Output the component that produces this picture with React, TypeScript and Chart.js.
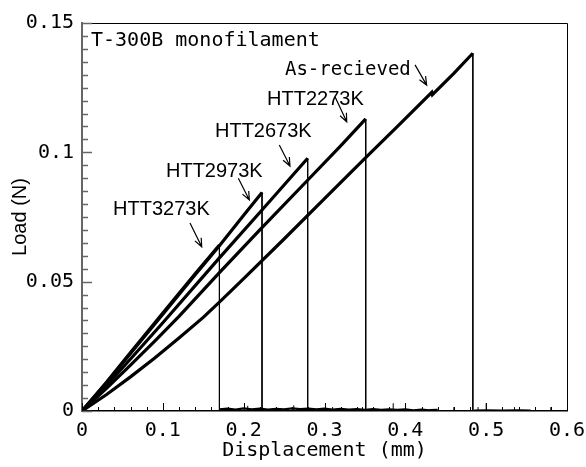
import React, { useEffect, useRef } from "react";
import { Chart, registerables } from "chart.js";

Chart.register(...registerables);

// ---- data (displacement mm, load N) ----
const asRecX = [0, 0.03, 0.06, 0.09, 0.12, 0.15, 0.17, 0.2, 0.25, 0.3, 0.35, 0.39, 0.4327, 0.4335, 0.46, 0.4835];
const asRecY = [0, 0.0063, 0.0132, 0.0205, 0.0282, 0.0362, 0.0421, 0.0512, 0.0665, 0.0821, 0.0977, 0.1099, 0.1232, 0.1223, 0.1305, 0.1383];

const h2273X = [0, 0.03, 0.06, 0.09, 0.12, 0.17, 0.22, 0.28, 0.32, 0.351];
const h2273Y = [0, 0.0087, 0.0177, 0.027, 0.0366, 0.0535, 0.07, 0.0895, 0.1025, 0.1129];

const h2673X = [0, 0.03, 0.06, 0.1, 0.17, 0.2227, 0.2792];
const h2673Y = [0, 0.0098, 0.0201, 0.0341, 0.0592, 0.0777, 0.0977];

const h2973X = [0, 0.03, 0.06, 0.1, 0.14, 0.17, 0.2, 0.2227];
const h2973Y = [0, 0.0108, 0.0222, 0.0374, 0.0527, 0.0639, 0.0757, 0.0845];

const h3273X = [0, 0.03, 0.06, 0.1, 0.14, 0.17];
const h3273Y = [0, 0.011, 0.0226, 0.0379, 0.0531, 0.0642];

// baseline noise after fracture
const noiseX = [0.17, 0.18, 0.19, 0.2, 0.21, 0.22, 0.23, 0.24, 0.25, 0.26, 0.27, 0.28, 0.29, 0.3, 0.31, 0.32, 0.33, 0.34, 0.35, 0.36, 0.37, 0.38, 0.39, 0.4, 0.41, 0.42, 0.43, 0.44];
const noiseY = [0.0006, 0.0009, 0.0005, 0.001, 0.0006, 0.0009, 0.0005, 0.0008, 0.0006, 0.001, 0.0007, 0.0009, 0.0006, 0.0009, 0.0005, 0.0008, 0.0005, 0.0007, 0.0004, 0.0007, 0.0004, 0.0006, 0.0004, 0.0006, 0.0003, 0.0005, 0.0003, 0.0004];
const spikeX = [0.205, 0.262, 0.31, 0.347, 0.385, 0.46, 0.49, 0.5, 0.535, 0.58];
const spikeY = [0.002, 0.0022, 0.0015, 0.0015, 0.003, 0.0015, 0.0015, 0.003, 0.0015, 0.0015];
const tailX = [0.485, 0.5, 0.52, 0.54, 0.555];
const tailY = [0.0003, 0.0004, 0.0003, 0.0004, 0.0003];

const xTicks = [0, 0.1, 0.2, 0.3, 0.4, 0.5, 0.6];
const xTickLabels = ["0", "0.1", "0.2", "0.3", "0.4", "0.5", "0.6"];
const yTicks = [0, 0.05, 0.1, 0.15];
const yTickLabels = ["0", "0.05", "0.1", "0.15"];

const seriesNames = ["As-recieved", "HTT2273K", "HTT2673K", "HTT2973K", "HTT3273K"];
const title = "T-300B monofilament";
const xTitle = "Displacement (mm)";
const yTitle = "Load (N)";

// annotation labels [x, y(baseline)] and arrows [x1,y1,x2,y2] in data units
const labelPos = [
  [0.2511, 0.1299],
  [0.2289, 0.1183],
  [0.1645, 0.1059],
  [0.1039, 0.0905],
  [0.0384, 0.0758],
];
const arrows = [
  [0.412, 0.1338, 0.4264, 0.126],
  [0.313, 0.1215, 0.3275, 0.1118],
  [0.2441, 0.1028, 0.2573, 0.0947],
  [0.1934, 0.09, 0.207, 0.0816],
  [0.1336, 0.0727, 0.1481, 0.0635],
];
const titlePos = [0.0111, 0.1411];

const zip = (xs: number[], ys: number[]) => xs.map((x, i) => ({ x, y: ys[i] }));
const drop = (xs: number[], ys: number[]) => {
  const n = xs.length - 1;
  return [{ x: xs[n], y: ys[n] }, { x: xs[n], y: 0 }];
};
const spikes = () => {
  const out: any[] = [];
  spikeX.forEach((x, i) => {
    out.push({ x, y: 0 }, { x, y: spikeY[i] }, { x, y: null });
  });
  return out;
};

const MONO = "'DejaVu Sans Mono', monospace";
const SANS = "'Liberation Sans', Arial, sans-serif";

const annotPlugin = {
  id: "annot",
  afterDraw(chart: any) {
    const { ctx, chartArea: a, scales } = chart;
    const xs = scales.x;
    const ys = scales.y;
    const px = (v: number) => xs.getPixelForValue(v);
    const py = (v: number) => ys.getPixelForValue(v);
    ctx.save();
    ctx.strokeStyle = "#000";
    ctx.lineWidth = 1;
    ctx.beginPath();
    ctx.moveTo(a.left, a.top + 0.5);
    ctx.lineTo(a.right + 0.5, a.top + 0.5);
    ctx.lineTo(a.right + 0.5, a.bottom);
    ctx.stroke();
    ctx.strokeStyle = "#666";
    ctx.lineWidth = 1.5;
    for (let i = 0; i <= 30; i++) {
      const v = i * 0.005;
      const y = Math.round(py(v)) + 0.5;
      const len = i % 10 === 0 ? 10 : 6;
      ctx.beginPath();
      ctx.moveTo(a.left, y);
      ctx.lineTo(a.left + len, y);
      ctx.stroke();
    }
    ctx.strokeStyle = "#000";
    ctx.lineWidth = 1;
    for (let i = 0; i <= 30; i++) {
      const v = i * 0.02;
      const x = Math.round(px(v)) + 0.5;
      const len = i % 5 === 0 ? 8 : 4;
      ctx.beginPath();
      ctx.moveTo(x, a.bottom);
      ctx.lineTo(x, a.bottom - len);
      ctx.stroke();
    }
    ctx.fillStyle = "#000";
    ctx.textBaseline = "alphabetic";
    ctx.textAlign = "left";
    ctx.font = `20px ${MONO}`;
    ctx.fillText(title, px(titlePos[0]), py(titlePos[1]));
    seriesNames.forEach((name, i) => {
      ctx.font = i === 0 ? `19px ${MONO}` : `20px ${SANS}`;
      ctx.fillText(name, px(labelPos[i][0]), py(labelPos[i][1]));
    });
    ctx.strokeStyle = "#000";
    ctx.lineWidth = 1.2;
    arrows.forEach(([x1, y1, x2, y2]) => {
      const X1 = px(x1), Y1 = py(y1), X2 = px(x2), Y2 = py(y2);
      const ang = Math.atan2(Y2 - Y1, X2 - X1);
      const hl = 9;
      ctx.beginPath();
      ctx.moveTo(X1, Y1);
      ctx.lineTo(X2, Y2);
      ctx.moveTo(X2 - hl * Math.cos(ang - 0.4), Y2 - hl * Math.sin(ang - 0.4));
      ctx.lineTo(X2, Y2);
      ctx.lineTo(X2 - hl * Math.cos(ang + 0.4), Y2 - hl * Math.sin(ang + 0.4));
      ctx.stroke();
    });
    ctx.restore();
  },
};

export default function App() {
  const ref = useRef<HTMLCanvasElement | null>(null);
  useEffect(() => {
    document.body.style.margin = "0";
    const curves = [
      zip(asRecX, asRecY),
      zip(h2273X, h2273Y),
      zip(h2673X, h2673Y),
      zip(h2973X, h2973Y),
      zip(h3273X, h3273Y),
    ];
    const drops = [
      drop(asRecX, asRecY),
      drop(h2273X, h2273Y),
      drop(h2673X, h2673Y),
      drop(h2973X, h2973Y),
      drop(h3273X, h3273Y),
    ];
    const base = { borderColor: "#000", pointRadius: 0, tension: 0, fill: false };
    const datasets: any[] = [
      ...curves.map((d, i) => ({ ...base, label: seriesNames[i], data: d, borderWidth: 3.2 })),
      ...drops.map((d, i) => ({ ...base, label: seriesNames[i] + " break", data: d, borderWidth: 1 })),
      { ...base, label: "noise", data: zip(noiseX, noiseY), borderWidth: 2.2 },
      { ...base, label: "tail", data: zip(tailX, tailY), borderWidth: 1.2 },
      { ...base, label: "spikes", data: spikes(), borderWidth: 1, spanGaps: false },
    ];
    const chart = new Chart(ref.current as HTMLCanvasElement, {
      type: "line",
      data: { datasets },
      plugins: [annotPlugin],
      options: {
        animation: false,
        responsive: false,
        layout: { padding: { top: 23, right: 19, left: 0, bottom: 0 } },
        plugins: { legend: { display: false }, tooltip: { enabled: false } },
        scales: {
          x: {
            type: "linear",
            min: 0,
            max: 0.6,
            afterBuildTicks: (s: any) => {
              s.ticks = xTicks.map((v) => ({ value: v }));
            },
            afterFit: (s: any) => {
              s.height = 56;
              s.paddingLeft = 0;
              s.paddingRight = 0;
            },
            grid: { display: false, drawTicks: false },
            border: { display: true, color: "#000", width: 1.5 },
            ticks: {
              autoSkip: false,
              maxRotation: 0,
              padding: 8,
              color: "#000",
              font: { family: MONO, size: 20 },
              callback: (v: any) => xTickLabels[xTicks.indexOf(Number(v))] ?? "",
            },
            title: {
              display: true,
              text: xTitle,
              color: "#000",
              font: { family: MONO, size: 20 },
              padding: { top: 0, bottom: 4 },
            },
          },
          y: {
            type: "linear",
            min: 0,
            max: 0.15,
            afterBuildTicks: (s: any) => {
              s.ticks = yTicks.map((v) => ({ value: v }));
            },
            afterFit: (s: any) => {
              s.width = 82;
              s.paddingTop = 0;
              s.paddingBottom = 0;
            },
            grid: { display: false, drawTicks: false },
            border: { display: true, color: "#666", width: 2 },
            ticks: {
              autoSkip: false,
              padding: 8,
              color: "#000",
              font: { family: MONO, size: 20 },
              callback: (v: any) => yTickLabels[yTicks.indexOf(Number(v))] ?? "",
            },
            title: {
              display: true,
              text: yTitle,
              color: "#000",
              font: { family: SANS, size: 20 },
              padding: { top: 8, bottom: 0 },
            },
          },
        },
      },
    } as any);
    return () => chart.destroy();
  }, []);
  return (
    <div style={{ width: 586, height: 467 }}>
      <canvas ref={ref} width={586} height={467} style={{ display: "block" }} />
    </div>
  );
}
